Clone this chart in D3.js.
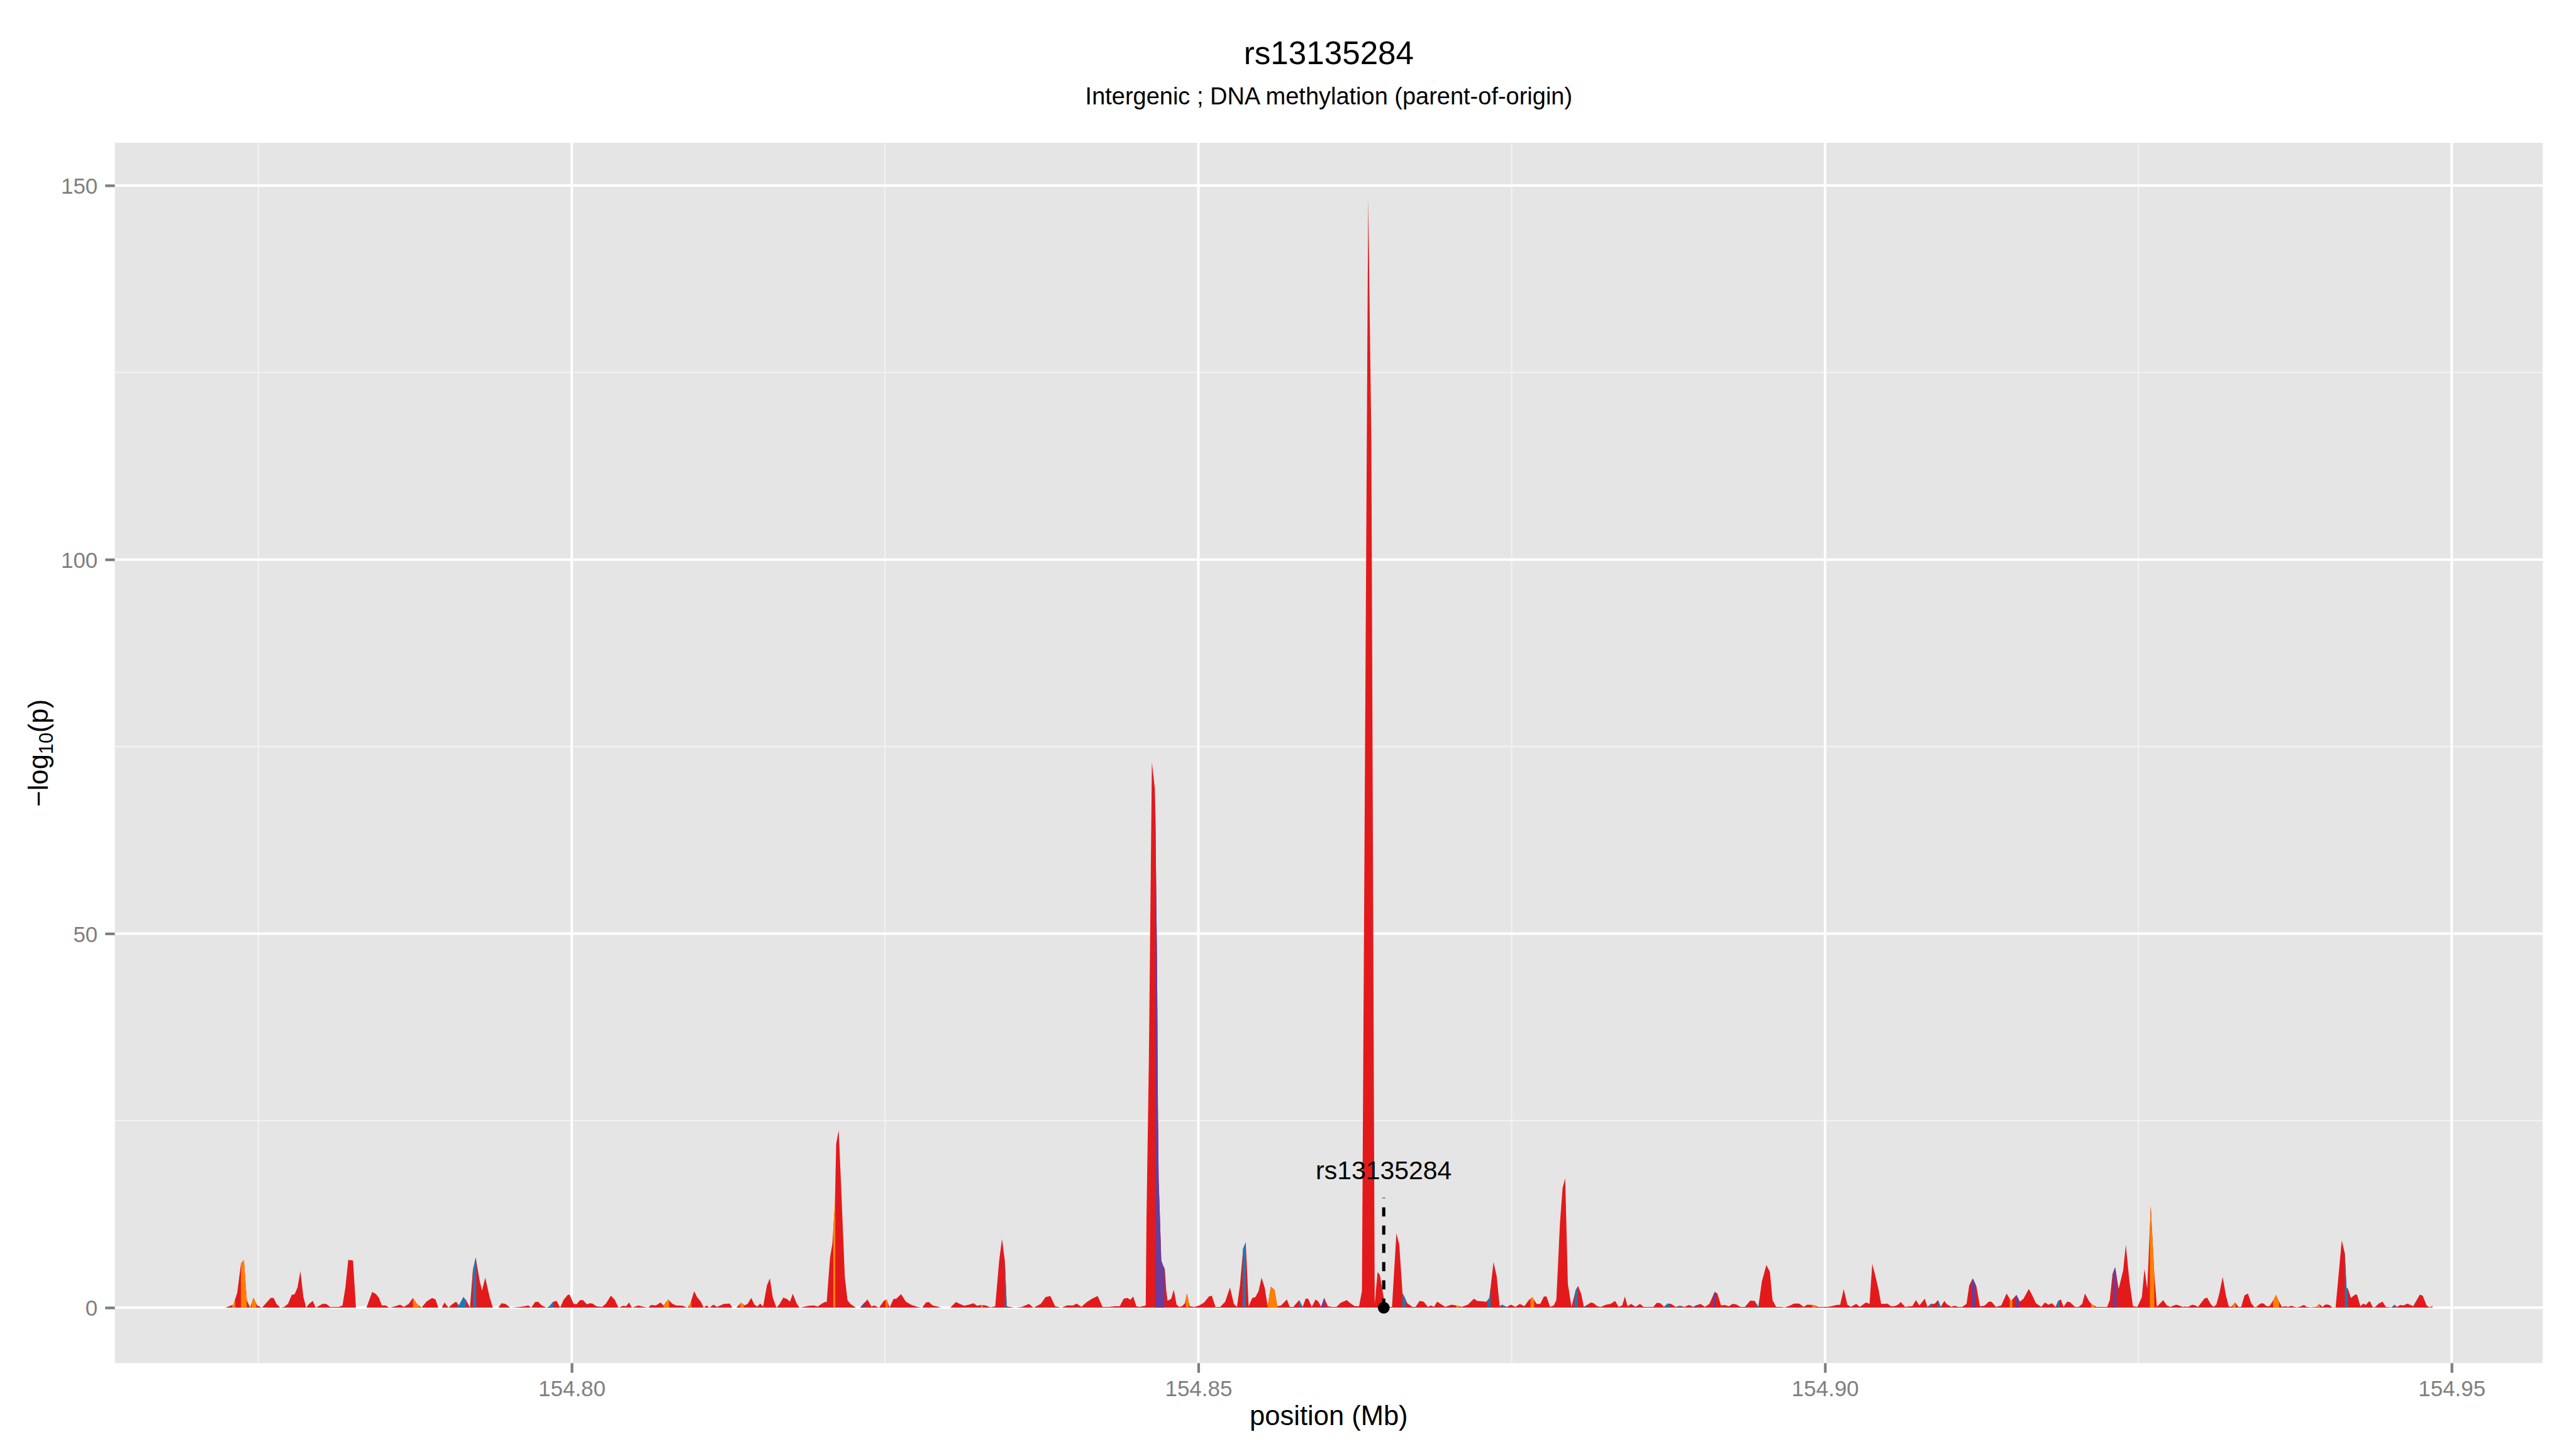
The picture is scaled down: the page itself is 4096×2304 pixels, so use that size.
<!DOCTYPE html>
<html>
<head>
<meta charset="utf-8">
<script src="https://cdn.jsdelivr.net/npm/d3@7"></script>
<style>
  body { margin: 0; background: #fff; }
  svg { display: block; }
  text { font-family: "Liberation Sans", Arial, sans-serif; }
</style>
</head>
<body>
<script>
// positions in kb, -log10(p)
const posKb = [
  154772.35,154773.00,154773.31,154773.61,154773.84,154774.07,154774.34,154774.60,154774.91,154775.29,
  154775.98,154776.21,154776.44,154776.75,154777.05,154777.36,154777.66,154777.89,154778.12,154778.35,
  154778.58,154778.81,154779.04,154779.34,154779.57,154780.11,154780.41,154780.72,154781.41,154781.71,
  154781.94,154782.17,154782.55,154782.78,154783.62,154784.08,154784.39,154784.62,154784.85,154785.15,
  154785.46,154785.92,154786.30,154786.61,154786.99,154787.33,154787.64,154788.02,154788.40,154788.86,
  154789.13,154789.36,154789.63,154789.85,154790.16,154790.50,154790.77,154791.00,154791.35,154791.57,
  154791.88,154792.11,154792.34,154792.64,154792.84,154793.10,154793.45,154793.71,154794.14,154794.40,
  154794.71,154795.09,154795.86,154796.24,154796.54,154796.77,154797.08,154797.31,154797.61,154798.00,
  154798.22,154798.53,154798.80,154799.07,154799.37,154799.68,154799.83,154800.14,154800.37,154800.67,
  154800.90,154801.21,154801.44,154801.66,154801.97,154802.43,154802.73,154803.12,154803.42,154803.73,
  154804.11,154804.34,154804.57,154804.80,154805.33,154805.64,154806.10,154806.33,154806.71,154807.09,
  154807.32,154807.70,154808.01,154808.32,154808.85,154809.23,154809.46,154809.77,154810.00,154810.30,
  154810.53,154810.76,154810.99,154811.30,154811.60,154812.14,154812.60,154812.82,154813.13,154813.51,
  154813.82,154814.05,154814.32,154814.58,154814.81,154815.04,154815.27,154815.58,154815.81,154816.04,
  154816.34,154816.57,154816.88,154817.18,154817.41,154817.64,154817.95,154818.18,154818.63,154818.94,
  154819.32,154819.63,154819.93,154820.24,154820.34,154820.61,154820.80,154821.00,154821.10,154821.30,
  154821.50,154821.79,154822.00,154822.23,154822.68,154822.99,154823.30,154823.60,154823.91,154824.14,
  154824.52,154824.90,154825.13,154825.36,154825.67,154825.90,154826.28,154826.66,154827.12,154827.58,
  154827.96,154828.27,154828.49,154828.80,154829.18,154829.49,154829.95,154830.20,154830.66,154830.96,
  154831.31,154831.69,154832.07,154832.34,154832.65,154833.03,154833.41,154833.79,154834.10,154834.33,
  154834.56,154834.71,154834.94,154835.40,154835.93,154836.47,154836.85,154837.42,154837.81,154838.19,
  154838.57,154839.07,154839.53,154839.99,154840.29,154840.67,154841.05,154841.51,154841.97,154842.35,
  154842.89,154843.35,154843.73,154844.04,154844.34,154844.57,154844.80,154845.05,154845.33,154845.80,
  154845.86,154846.05,154846.29,154846.52,154846.57,154846.63,154846.69,154846.73,154846.77,154846.83,
  154846.90,154847.04,154847.19,154847.29,154847.33,154847.43,154847.54,154847.83,154848.04,154848.26,
  154848.47,154848.70,154848.93,154849.08,154849.31,154849.69,154850.07,154850.46,154850.84,154851.07,
  154851.37,154851.75,154852.14,154852.52,154852.83,154853.08,154853.32,154853.57,154853.78,154854.01,
  154854.30,154854.55,154854.80,154855.04,154855.29,154855.53,154855.78,154856.07,154856.30,154856.60,
  154857.06,154857.29,154857.58,154858.04,154858.32,154858.56,154858.76,154859.05,154859.35,154859.58,
  154859.79,154860.04,154860.33,154860.69,154861.02,154861.35,154861.84,154862.13,154862.49,154862.82,
  154863.05,154863.55,154863.80,154864.07,154864.30,154864.49,154864.87,154865.03,154865.45,154865.80,
  154866.03,154866.29,154866.43,154866.67,154867.08,154867.33,154867.65,154867.98,154868.31,154868.55,
  154868.80,154869.05,154869.70,154870.19,154870.60,154871.01,154871.50,154871.99,154872.24,154872.98,
  154873.22,154873.55,154873.80,154874.04,154874.23,154874.59,154874.94,154875.30,154875.65,154876.01,
  154876.36,154876.64,154876.99,154877.28,154877.57,154877.78,154878.06,154878.35,154878.56,154878.85,
  154879.06,154879.27,154879.48,154879.77,154880.12,154880.30,154880.55,154880.76,154881.33,154881.54,
  154881.83,154882.11,154882.54,154882.89,154883.25,154883.53,154883.82,154884.03,154884.24,154884.53,
  154884.88,154885.24,154885.52,154886.30,154886.58,154886.87,154887.15,154887.44,154887.72,154888.08,
  154888.43,154888.79,154889.14,154889.50,154889.71,154890.06,154890.42,154890.77,154891.20,154891.41,
  154891.70,154891.98,154892.34,154892.62,154892.90,154893.26,154893.61,154894.04,154894.39,154894.68,
  154894.96,154895.32,154895.60,154895.81,154896.10,154896.45,154896.81,154897.23,154897.52,154897.94,
  154898.30,154898.58,154899.08,154899.44,154900.15,154900.50,154900.93,154901.21,154901.49,154901.78,
  154902.06,154902.49,154902.77,154903.27,154903.55,154903.77,154903.98,154904.26,154904.48,154904.76,
  154904.97,154905.26,154905.54,154905.83,154906.04,154906.39,154906.75,154906.96,154907.25,154907.53,
  154907.96,154908.17,154908.45,154908.74,154909.02,154909.23,154909.52,154909.73,154910.09,154910.30,
  154910.65,154910.94,154911.29,154911.51,154911.79,154912.07,154912.36,154912.71,154913.07,154913.28,
  154913.64,154914.06,154914.49,154914.84,154915.27,154915.55,154915.84,154916.26,154916.55,154916.83,
  154917.26,154917.54,154917.82,154918.11,154918.39,154918.61,154918.82,154919.03,154919.32,154919.53,
  154919.95,154920.24,154920.52,154920.74,154921.09,154921.30,154921.66,154922.16,154922.51,154922.72,
  154922.94,154923.15,154923.43,154923.79,154924.00,154924.29,154924.57,154924.92,154925.28,154925.49,
  154925.71,154925.99,154926.27,154926.48,154926.98,154927.28,154927.55,154928.01,154928.24,154928.54,
  154928.73,154928.96,154929.31,154929.54,154929.77,154930.26,154930.49,154930.76,154930.99,154931.22,
  154931.45,154931.73,154931.98,154932.21,154932.40,154932.73,154932.98,154933.21,154933.47,154933.74,
  154934.01,154934.24,154934.39,154934.79,154935.00,154935.23,154935.46,154935.77,154935.98,154936.23,
  154936.45,154936.72,154936.95,154937.22,154937.45,154937.68,154937.98,154938.21,154938.44,154938.75,
  154939.21,154939.44,154939.67,154939.97,154940.24,154940.47,154940.74,154941.23,154941.48,154941.61,
  154941.73,154941.96,154942.30,154942.45,154942.72,154942.95,154943.14,154943.45,154943.72,154943.91,
  154944.18,154944.48,154944.75,154945.21,154945.44,154945.63,154945.90,154946.16,154946.47,154946.93,
  154947.46,154947.69,154948.00,154948.23,154948.46
];
const logP = [
  0,0.4,2,5.9,6.4,1,0,1.3,0.3,0,
  1.3,1.3,0.5,0,0.1,0.5,1.7,1.8,2.7,4.9,
  1.5,0,0.5,0.9,0,0.5,0.5,0.1,0.1,0.3,
  2.7,6.4,6.3,0,0,2.1,1.8,1.3,0.3,0.3,
  0,0.2,0.4,0.1,0.5,1.3,0.5,0,0.8,1.3,
  1.1,0,0,0.7,0,0.5,0.8,0.3,1.4,1.0,
  0,5.0,6.7,3.7,2.3,4.0,1.4,0,0,0.6,
  0.5,0,0.1,0.2,0.3,0,0.75,0.8,0.3,0,
  0.2,0.8,0.9,0,1.1,1.7,1.75,0.55,0.45,1.0,
  1.0,0.45,0.6,0.55,0.2,0.1,0.55,1.6,1.1,0,
  0.25,0.2,0.7,0,0.3,0.15,0,0.35,0.3,0.7,
  0.3,1.1,0.55,0.3,0.25,0,0.55,2.2,1.4,0.8,
  0,0.3,0,0.4,0.1,0.5,0.55,0,0,0.65,
  0.3,0.55,1.3,0.4,0.15,0.55,0.15,3.0,3.9,1.35,
  0,0.45,1.35,1.15,0.8,1.85,0.55,0,0.15,0.25,
  0.3,0.15,0.5,0.8,0.7,6.7,8.6,14,21.9,23.7,
  16,4.1,1.0,0.5,0,0,0.55,1.1,0.15,0.3,
  0,0.9,1.1,0,1.15,1.2,1.8,0.8,0.35,0.1,
  0,0.7,0.75,0.3,0.15,0,0,0,0.75,0.5,
  0.25,0.4,0.6,0.25,0.35,0.3,0.05,0.2,6.2,9.2,
  6.2,0.2,0.1,0,0.1,0.5,0,0.5,1.4,1.55,
  0.2,0,0.3,0.3,0.55,0.1,0.7,1.2,1.55,0.1,
  0.1,0.2,0.2,1.2,1.3,1.05,1.5,0.2,0.1,0.3,
  12,33,72.9,69.5,66,56.7,47.9,39,26.9,17.1,
  13.7,6.3,5.6,5.3,5.0,2.4,0.9,1.2,2.4,0.4,
  0.1,0.2,0.6,1.9,0.2,0.1,0.3,0.7,1.5,1.6,
  0.1,0.1,0.8,2.7,0.5,0.1,3.0,7.9,8.75,0.2,
  1.3,1.4,2.2,4.0,2.7,0.2,2.8,2.4,0.2,0.3,
  1.1,0.1,0.1,1.0,0.1,1.2,1.2,0.1,1.1,0.8,
  0.1,1.3,0.2,0.1,0.1,0.65,1.0,0.6,0.2,0.2,
  2.2,148.3,116,0.5,4.8,4.3,0.5,0.1,0.1,9.95,
  8.4,1.9,1.5,0.6,0.1,0.1,0.9,0.8,0.1,0.3,
  0.1,0.8,0.1,0.4,0.3,0.1,0.4,1.2,0.9,0.8,
  1.3,6.1,4.2,0.2,0.4,0.1,0.4,0.1,0.5,0.2,
  1.0,1.4,0.5,0.5,1.5,1.5,0.1,0.3,1.0,11.3,
  16.0,17.3,3.2,0.1,2.4,2.9,1.8,0.1,0.7,0.6,
  0.2,0.1,0.4,0.5,0.9,0.1,0.3,1.5,0.2,0.5,
  0.1,0.5,0.1,0.1,0.65,0.6,0.1,0.55,0.5,0.1,
  0.25,0.1,0.35,0.1,0.3,0.5,0.1,0.5,2.1,1.9,
  0.3,0.35,0.2,0.5,0.45,0.1,0.1,0.95,0.9,0.1,
  3.5,5.7,4.8,1.0,0.1,0.1,0.05,0.3,0.55,0.55,
  0.1,0.4,0.35,0.1,0.1,0.2,0.35,0.4,2.5,0.4,
  0.1,0.5,0.1,0.7,0.5,5.85,4.5,2.5,0.5,0.5,
  0.55,0.2,0.2,0.4,0.75,0.1,0.2,0.2,1.0,0.3,
  1.2,0.1,0.5,0.5,1.0,0.1,0.9,0.45,0.1,0.25,
  0.1,0.1,0.5,3.0,3.9,2.9,0.2,0.25,0.8,0.8,
  0.1,0.3,1.9,0.9,1.7,0.8,1.2,2.5,1.6,0.6,
  0.1,0.7,0.4,0.6,0.1,0.9,1.1,0.1,0.8,0.75,
  0.1,0.1,0.5,1.9,0.8,0.45,0.1,0.1,0.1,1.0,
  4.5,5.4,2.5,5.0,8.4,3.5,0.2,0.1,1.4,5.2,
  2.5,13.6,4.6,0.1,1.0,0.3,0.1,0.4,0.3,0.1,
  0.15,0.1,0.4,0.3,0.1,1.2,1.35,0.5,0.1,0.4,
  1.8,4.1,1.7,0.2,0.1,0.7,0.1,0.1,1.65,1.9,
  0.6,0.1,0.1,0.6,0.55,0.2,0.2,1.0,1.7,0.8,
  0.1,0.2,0.1,0.25,0.1,0.05,0.2,0.35,0.1,0.05,
  0.1,0.5,0.1,0.45,0.35,0.05,0.05,9.0,7.2,2.7,
  2.5,1.3,1.75,1.75,0.2,0.55,0.35,0.9,0.05,0.1,
  0.55,0.8,0.1,0.05,0.4,0.1,0.35,0.3,0.55,0.2,
  1.75,1.6,0.3,0.05,0.25
];

// stretches of the area filled with another annotation colour (kb)
const bandFrom = [154772.90,154773.61,154774.45,154787.33,154790.89,154792.11,154798.07,154807.32,154809.31,154813.43,
  154820.87,154823.15,154825.05,154832.65,154834.56,154846.55,154849.00,154851.37,154853.54,154855.54,
  154857.28,154858.04,154859.79,154866.29,154867.05,154870.55,154873.06,154874.23,154876.50,154880.02,
  154880.83,154884.81,154887.29,154888.29,154889.57,154891.06,154893.51,154894.54,154898.97,154908.31,
  154909.02,154911.72,154914.74,154915.23,154918.50,154921.23,154922.97,154925.92,154932.52,154934.24,
  154935.75,154939.28,154941.48,154945.30,154948.26];
const bandTo = [154773.15,154774.07,154774.83,154787.83,154791.57,154792.38,154798.53,154807.78,154809.54,154813.74,
  154821.03,154823.38,154825.21,154832.80,154834.79,154847.30,154849.23,154851.45,154853.79,154856.30,
  154857.49,154858.27,154860.07,154866.56,154867.25,154870.81,154873.31,154874.50,154876.79,154880.27,
  154880.98,154884.95,154887.58,154888.50,154889.78,154891.27,154893.68,154894.75,154899.26,154908.52,
  154909.23,154912.00,154914.95,154915.48,154918.71,154921.52,154923.26,154926.27,154932.75,154934.51,
  154936.23,154939.48,154941.71,154945.49,154948.46];
const bandCat = ["o","o","o","o","b","b","b","o","o","o",
  "o","p","o","o","b","p","o","o","b","o",
  "b","b","p","b","b","o","b","b","o","b",
  "b","b","b","b","p","p","b","b","o","b",
  "b","p","o","p","b","o","p","o","o","o",
  "o","o","b","b","o"];
const catColor = {r: "#E31A1C", o: "#FF7F00", b: "#1F78B4", p: "#6A3D9A"};

const xMajor = [154.80, 154.85, 154.90, 154.95];
const xMinor = [154.775, 154.825, 154.875, 154.925];
const yMajor = [0, 50, 100, 150];
const yMinor = [25, 75, 125];

const snpName = "rs13135284";
const snpKb = 154864.79;
const snpLogP = 0;
const snpLineTop = 14.7;
const snpLabelY = 18.4;

const titleText = "rs13135284";
const subtitleText = "Intergenic ; DNA methylation (parent-of-origin)";

const W = 4800, H = 2700;
const panel = {left: 214, right: 4738, top: 266, bottom: 2540};

const svg = d3.select("body").append("svg")
  .attr("width", 4096).attr("height", 2304)
  .attr("viewBox", [0, 0, W, H]);

const data = posKb.map((p, i) => ({mb: p / 1000, v: logP[i]}));

const ext = d3.extent(data, d => d.mb);
const xpad = (ext[1] - ext[0]) * 0.05;
const x = d3.scaleLinear().domain([ext[0] - xpad, ext[1] + xpad]).range([panel.left, panel.right]);
const ymax = d3.max(logP);
const y = d3.scaleLinear().domain([-0.05 * ymax, 1.05 * ymax]).range([panel.bottom, panel.top]);

// panel
svg.append("rect")
  .attr("x", panel.left).attr("y", panel.top)
  .attr("width", panel.right - panel.left).attr("height", panel.bottom - panel.top)
  .attr("fill", "#E5E5E5");

const grid = svg.append("g");
grid.selectAll(".xmin").data(xMinor).enter().append("line")
  .attr("x1", d => x(d)).attr("x2", d => x(d))
  .attr("y1", panel.top).attr("y2", panel.bottom)
  .attr("stroke", "#F2F2F2").attr("stroke-width", 2.4);
grid.selectAll(".ymin").data(yMinor).enter().append("line")
  .attr("y1", d => y(d)).attr("y2", d => y(d))
  .attr("x1", panel.left).attr("x2", panel.right)
  .attr("stroke", "#F2F2F2").attr("stroke-width", 2.4);
grid.selectAll(".xmaj").data(xMajor).enter().append("line")
  .attr("x1", d => x(d)).attr("x2", d => x(d))
  .attr("y1", panel.top).attr("y2", panel.bottom)
  .attr("stroke", "#fff").attr("stroke-width", 4.6);
grid.selectAll(".ymaj").data(yMajor).enter().append("line")
  .attr("y1", d => y(d)).attr("y2", d => y(d))
  .attr("x1", panel.left).attr("x2", panel.right)
  .attr("stroke", "#fff").attr("stroke-width", 4.6);

// area
const area = d3.area()
  .x(d => x(d.mb))
  .y0(y(0))
  .y1(d => y(d.v));
const areaD = area(data);

svg.append("path").attr("d", areaD).attr("fill", catColor.r);

const defs = svg.append("defs");
bandFrom.forEach((f, i) => {
  const id = "band" + i;
  defs.append("clipPath").attr("id", id).append("rect")
    .attr("x", x(f / 1000)).attr("width", x(bandTo[i] / 1000) - x(f / 1000))
    .attr("y", panel.top).attr("height", panel.bottom - panel.top);
  svg.append("path").attr("d", areaD)
    .attr("fill", catColor[bandCat[i]])
    .attr("clip-path", "url(#" + id + ")");
});

// highlighted SNP
const sx = x(snpKb / 1000);
svg.append("line")
  .attr("x1", sx).attr("x2", sx)
  .attr("y1", y(snpLogP)).attr("y2", y(snpLineTop))
  .attr("stroke", "#000").attr("stroke-width", 6)
  .attr("stroke-dasharray", "17,17");
svg.append("circle")
  .attr("cx", sx).attr("cy", y(snpLogP)).attr("r", 11).attr("fill", "#000");
svg.append("text")
  .attr("x", sx).attr("y", y(snpLabelY)).attr("dy", "0.35em")
  .attr("text-anchor", "middle").attr("font-size", 48).attr("fill", "#000")
  .text(snpName);

// axes
const xAxis = svg.append("g")
  .attr("transform", `translate(0,${panel.bottom})`)
  .call(d3.axisBottom(x).tickValues(xMajor).tickFormat(d3.format(".2f")).tickSize(18).tickPadding(14));
const yAxis = svg.append("g")
  .attr("transform", `translate(${panel.left},0)`)
  .call(d3.axisLeft(y).tickValues(yMajor).tickSize(18).tickPadding(14));
[xAxis, yAxis].forEach(a => {
  a.select(".domain").remove();
  a.selectAll("line").attr("stroke", "#7F7F7F").attr("stroke-width", 5);
  a.selectAll("text").attr("fill", "#7F7F7F").attr("font-size", 41)
    .attr("font-family", "Liberation Sans, Arial, sans-serif");
});
yAxis.selectAll("text").attr("dy", "0.36em");

// titles
const cx = (panel.left + panel.right) / 2;
svg.append("text").attr("x", cx).attr("y", 119)
  .attr("text-anchor", "middle").attr("font-size", 60).text(titleText);
svg.append("text").attr("x", cx).attr("y", 195)
  .attr("text-anchor", "middle").attr("font-size", 44.5).text(subtitleText);

svg.append("text").attr("x", cx).attr("y", 2655)
  .attr("text-anchor", "middle").attr("font-size", 51).text("position (Mb)");

const yt = svg.append("text")
  .attr("transform", "translate(89,1403) rotate(-90)")
  .attr("text-anchor", "middle").attr("font-size", 51);
yt.append("tspan").text("\u2212log");
yt.append("tspan").attr("font-size", 36).attr("dy", 10).text("10");
yt.append("tspan").attr("dy", -10).text("(p)");
</script>
</body>
</html>
